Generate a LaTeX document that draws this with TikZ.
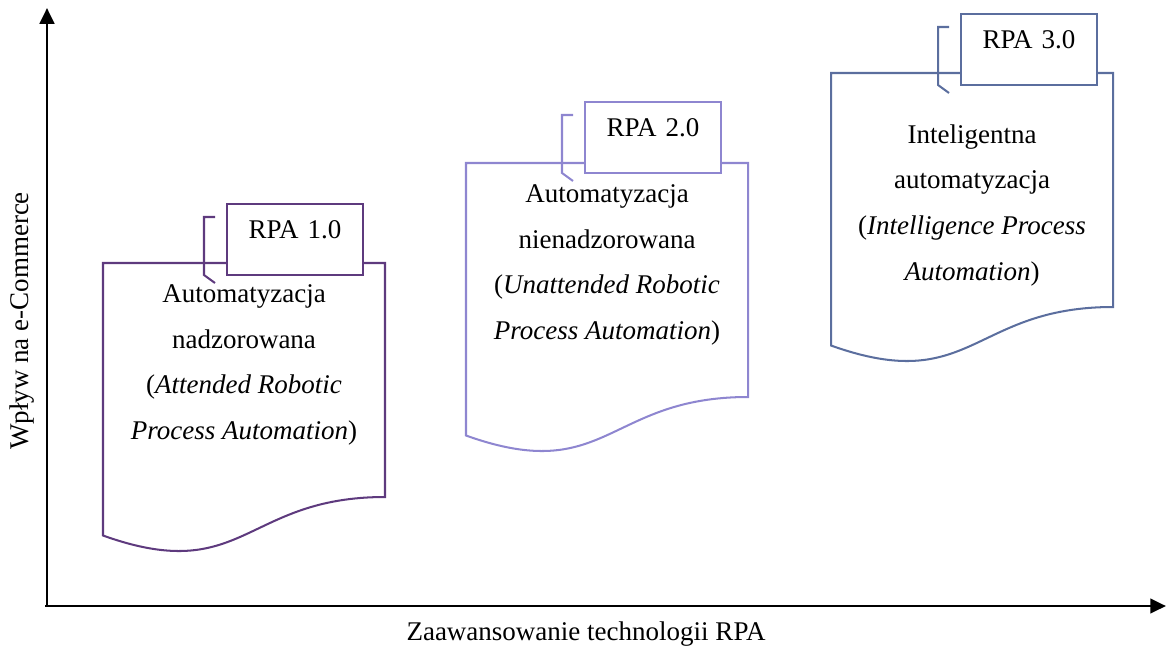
\documentclass[tikz,border=0pt]{standalone}
\usepackage{fontspec}
\setmainfont{Liberation Serif}
\usetikzlibrary{arrows.meta}
\definecolor{rpaone}{RGB}{94,58,126}
\definecolor{rpatwo}{RGB}{142,134,208}
\definecolor{rpathree}{RGB}{91,110,158}

\begin{document}
\begin{tikzpicture}[x=0.4444pt, y=-0.4444pt,
  docline/.style={line width=0.9pt},
  rpabox/.style={draw, fill=white, line width=0.9pt, inner sep=0pt,
    text width=60.4pt, align=center, text height=15.3pt, text depth=16.3pt,
    font=\fontsize{12pt}{14pt}\selectfont},
  doctext/.style={align=center, inner sep=0pt, anchor=north,
    font=\fontsize{12pt}{20.3pt}\selectfont},
  axislabel/.style={inner sep=0pt, font=\fontsize{12pt}{14pt}\selectfont},
  axis/.style={line width=1.3pt, -{Triangle[length=7pt, width=6.4pt]}}]

\useasboundingbox (0,0) rectangle (1167,650);

% ── Dokumente mit Beschriftung ───────────────────────────────────────
% Dokument:  282 breit, Welle unten wie Word-Form
% Klammer:   22 links vom Kasten
\foreach \n/\dx/\dy/\col/\bx/\by/\lab in {
  one/103/263/rpaone/226/203/1.0,
  two/466/163/rpatwo/584/101/2.0,
  three/831/73/rpathree/960/13/3.0}
{
  \draw[docline, \col] (\dx,\dy) -- (\dx+282,\dy) -- (\dx+282,\dy+234)
    .. controls (\dx+141,\dy+234) and (\dx+141,\dy+323) .. (\dx,\dy+272.5)
    -- cycle;

  % Klammer der Legende
  \draw[docline, \col] (\bx-11,\by+14) -- (\bx-22,\by+14)
    -- (\bx-22,\by+72) -- (\bx-11,\by+80);

  % Kasten RPA x.0
  \node[rpabox, draw=\col, anchor=north west] (rpa\n) at (\bx,\by) {RPA \lab};
}

% ── Texte ────────────────────────────────────────────────────────────
\node[doctext] (txtone) at (244,284)
  {Automatyzacja\\nadzorowana\\(\textit{Attended Robotic}\\\textit{Process Automation})};
\node[doctext] (txttwo) at (607,184)
  {Automatyzacja\\nienadzorowana\\(\textit{Unattended Robotic}\\\textit{Process Automation})};
\node[doctext] (txtthree) at (972,124)
  {Inteligentna\\automatyzacja\\(\textit{Intelligence Process}\\\textit{Automation})};

% ── Achsen ───────────────────────────────────────────────────────────
\coordinate (origin) at (47,607);
\coordinate (xstart) at (45,606);
\coordinate (ytip) at (47,8);
\coordinate (xtip) at (1166,606);
\draw[axis] (origin) -- (ytip);
\draw[axis] (xstart) -- (xtip);

\node[axislabel, rotate=90] (ylab) at (22,321) {Wpływ na e-Commerce};
\node[axislabel] (xlab) at (586,634) {Zaawansowanie technologii RPA};

\end{tikzpicture}
\end{document}
